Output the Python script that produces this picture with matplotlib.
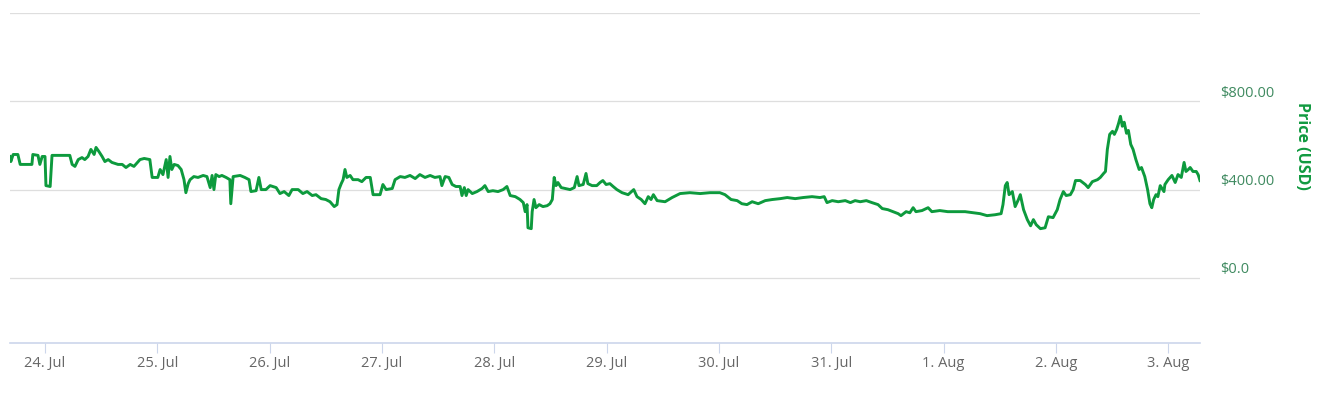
from datetime import datetime, timedelta

import matplotlib
import matplotlib.pyplot as plt
from matplotlib.transforms import ScaledTranslation

matplotlib.use("Agg")

START = datetime(2017, 7, 24)

# hours after 24 Jul 00:00
HOURS = [
    -7.5, -7.3, -6.8, -5.8, -5.3, -2.8, -2.6, -1.5, -1.1, -0.6, 0.0, 0.2, 1.1, 1.5,
    5.3, 5.8, 6.4, 7.1, 7.9, 8.5, 9.2, 9.8, 10.5, 10.9, 11.5, 12.2, 12.8, 13.5,
    14.3, 15.6, 16.5, 17.3, 18.2, 19.0, 20.3, 21.2, 22.4, 22.9, 24.1, 24.6, 25.2,
    25.9, 26.3, 26.7, 27.1, 27.6, 28.4, 29.1, 29.7, 30.1, 30.6, 31.0, 31.8, 32.7,
    33.8, 34.6, 35.3, 35.7, 36.1, 36.5, 37.2, 37.8, 38.7, 39.5, 39.7, 40.2, 41.7,
    42.7, 43.6, 44.0, 45.1, 45.7, 46.2, 47.2, 48.1, 49.4, 50.2, 51.1, 52.1, 52.8,
    54.1, 55.1, 56.0, 57.1, 57.9, 59.0, 60.0, 60.9, 61.8, 62.4, 62.8, 63.3, 63.7,
    64.1, 64.5, 65.2, 65.8, 66.9, 67.7, 68.6, 69.5, 70.1, 71.6, 72.2, 72.9, 74.2,
    74.8, 75.9, 76.9, 78.0, 79.1, 80.1, 81.2, 82.3, 83.3, 84.4, 84.8, 85.5, 86.3,
    87.0, 87.8, 88.7, 89.1, 89.6, 90.0, 90.4, 91.3, 92.3, 93.4, 94.0, 94.7, 95.7,
    96.8, 97.9, 98.7, 99.4, 100.5, 101.5, 102.2, 102.6, 103.0, 103.2, 103.9, 104.1,
    104.5, 104.9, 105.6, 106.4, 107.3, 107.9, 108.4, 108.8, 109.2, 109.6, 110.3,
    111.1, 112.2, 113.1, 113.7, 114.1, 115.0, 115.6, 116.0, 116.9, 117.9, 118.6,
    119.2, 119.9, 120.7, 121.4, 122.2, 123.3, 124.6, 125.8, 126.5, 127.4, 128.2,
    128.9, 129.5, 130.0, 130.8, 132.5, 134.0, 135.7, 137.8, 140.0, 142.1, 144.2,
    145.3, 146.6, 147.9, 148.9, 150.0, 151.1, 152.4, 153.9, 155.4, 157.1, 158.6,
    160.3, 162.0, 163.9, 165.6, 166.5, 167.1, 168.2, 169.5, 171.0, 172.1, 173.1,
    174.2, 175.5, 176.7, 178.0, 178.9, 180.1, 181.2, 182.3, 182.9, 184.0, 184.8,
    185.5, 186.1, 187.4, 188.7, 189.5, 191.2, 192.9, 194.7, 196.6, 198.3, 199.8,
    201.3, 203.0, 204.3, 204.7, 205.2, 205.6, 206.0, 206.7, 207.3, 208.0, 208.4,
    209.1, 209.9, 210.6, 211.2, 211.8, 212.7, 213.7, 214.4, 215.4, 216.3, 216.9,
    217.6, 218.2, 219.1, 219.7, 220.2, 221.2, 222.3, 222.9, 223.8, 224.9, 225.5,
    226.2, 226.6, 227.0, 227.5, 228.1, 228.5, 229.0, 229.4, 229.8, 230.2, 230.6,
    231.1, 231.5, 232.0, 232.5, 233.1, 233.8, 234.3, 235.0, 235.6, 236.1, 236.5,
    236.9, 237.4, 237.8, 238.3, 239.1, 239.3, 240.0, 240.8, 241.5, 242.1, 242.8,
    243.4, 243.8, 244.3, 244.7, 245.3, 246.0, 246.4, 246.8,
]

PRICE = [
    550, 527, 559, 559, 514, 514, 559, 555, 514, 550, 550, 418, 414, 555,
    555, 514, 505, 536, 545, 536, 550, 582, 559, 591, 573, 550, 527, 536,
    523, 514, 514, 500, 514, 505, 536, 541, 536, 455, 455, 491, 468,
    536, 455, 550, 491, 514, 509, 491, 445, 386, 427, 445, 459, 455,
    464, 459, 409, 464, 400, 468, 459, 464, 455, 445, 336, 459, 464,
    455, 445, 391, 395, 455, 400, 400, 418, 409, 382, 391, 373, 400,
    400, 382, 391, 373, 377, 359, 355, 345, 323, 332, 400, 427, 445,
    491, 455, 464, 445, 445, 436, 455, 455, 377, 377, 423, 400, 405,
    445, 459, 455, 464, 450, 468, 455, 464, 455, 459, 418, 459, 455,
    423, 414, 414, 373, 409, 373, 400, 382, 391, 405, 418, 391, 395,
    391, 400, 414, 373, 368, 355, 341, 300, 332, 227, 223, 300,
    355, 318, 332, 323, 327, 336, 355, 455, 418, 432, 409,
    405, 400, 409, 459, 418, 423, 473, 427, 418, 418, 432,
    441, 423, 427, 414, 400, 386, 377, 400, 368, 355, 336,
    368, 355, 377, 350, 345, 364, 382, 386, 382, 386, 386,
    377, 355, 350, 336, 332, 345, 336, 350, 355, 359, 364,
    359, 364, 368, 364, 368, 341, 350, 345, 350, 341, 350,
    345, 350, 341, 332, 314, 309, 300, 291, 282, 300, 295,
    318, 300, 305, 318, 300, 305, 300, 300, 300, 295, 291,
    282, 286, 291, 332, 418, 432, 377, 391, 323, 355, 377,
    309, 264, 236, 264, 241, 223, 227, 277, 273, 309, 355,
    391, 373, 377, 400, 441, 441, 423, 409, 436, 445, 455,
    473, 482, 582, 650, 664, 650, 673, 700, 732, 687, 705,
    655, 668, 605, 582, 536, 491, 500, 459, 400, 336, 318,
    355, 377, 368, 418, 391, 423, 445, 464, 432, 468, 455,
    523, 482, 491, 500, 482, 482, 468, 441,
]

TICK_DAYS = list(range(11))
TICK_LABELS = ["24. Jul", "25. Jul", "26. Jul", "27. Jul", "28. Jul", "29. Jul",
               "30. Jul", "31. Jul", "1. Aug", "2. Aug", "3. Aug"]
Y_TICKS = [0, 400, 800, 1200]
Y_LABELS = ["$0.0", "$400.00", "$800.00", ""]

LINE_GREEN = "#0d9a3d"

W, H = 1339, 393
fig = plt.figure(figsize=(W / 100, H / 100), dpi=100)
ax = fig.add_axes([10 / W, 1 - 343 / H, 1190 / W, 330 / H])

times = [START + timedelta(hours=h) for h in HOURS]
ax.plot(times, PRICE, color=LINE_GREEN, lw=2.1, solid_joinstyle="round")

ax.set_xlim(START + timedelta(hours=-7.48), START + timedelta(hours=246.8))
ax.set_ylim(-295, 1200)

ax.set_xticks([START + timedelta(days=d) for d in TICK_DAYS])
ax.set_xticklabels(TICK_LABELS, fontfamily="Open Sans", fontsize=10.5, color="#666666")
ax.tick_params(axis="x", length=7.2, width=0.8, color="#ccd6eb", pad=2)

ax.yaxis.tick_right()
ax.set_yticks(Y_TICKS)
ax.set_yticklabels(Y_LABELS, fontfamily="Open Sans", fontsize=10.5, color="#3f8a60")
ax.tick_params(axis="y", length=0, pad=14.4)
offset = ScaledTranslation(0, 8 / 100, fig.dpi_scale_trans)
for lbl in ax.get_yticklabels():
    lbl.set_transform(lbl.get_transform() + offset)
    lbl.set_verticalalignment("center")

ax.grid(axis="y", color="#dedede", lw=0.9)
ax.set_axisbelow(True)
for side in ["top", "left", "right"]:
    ax.spines[side].set_visible(False)
ax.spines["bottom"].set_color("#ccd6eb")
ax.spines["bottom"].set_linewidth(1.2)

fig.text(1302 / W, 1 - 146 / H, "Price (USD)", rotation=270, ha="center", va="center",
         fontfamily="Open Sans", fontweight="bold", fontsize=11.5, color="#119a40")

fig.savefig("out.png", dpi=100)
